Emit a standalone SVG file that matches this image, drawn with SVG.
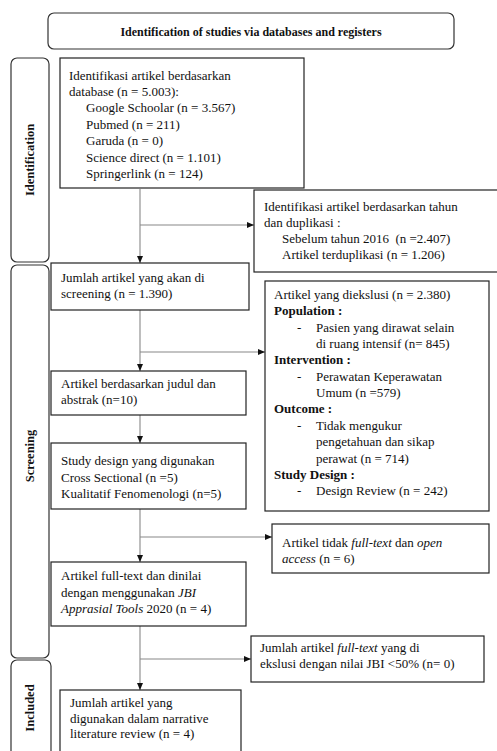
<svg xmlns="http://www.w3.org/2000/svg" width="497" height="751" viewBox="0 0 497 751">
<defs>
<style>
text{font-family:"Liberation Serif","Times New Roman",serif;font-size:13px;fill:#111}
.b{font-weight:bold}
.h{font-weight:bold;font-size:12px}
.side{font-weight:bold;font-size:12.5px}
.box{fill:#fff;stroke:#222;stroke-width:1.2}
.rbox{fill:#fff;stroke:#333;stroke-width:1.2}
.con line{stroke:#888;stroke-width:1.1}
</style>
<marker id="ah" markerWidth="7" markerHeight="6" refX="7" refY="3" orient="auto" markerUnits="userSpaceOnUse">
<path d="M0,0 L7,3 L0,6 Z" fill="#111"/>
</marker>
</defs>
<rect width="497" height="751" fill="#fff"/>

<g id="header">
<rect class="rbox" x="48" y="13" width="406" height="36" rx="6"/>
<text class="h" x="251" y="36" text-anchor="middle">Identification of studies via databases and registers</text>
</g>

<g id="side-identification">
<rect class="rbox" x="11" y="58" width="38" height="204" rx="6"/>
<text class="side" transform="translate(34,160) rotate(-90)" text-anchor="middle">Identification</text>
</g>
<g id="side-screening">
<rect class="rbox" x="11" y="265" width="38" height="393" rx="6"/>
<text class="side" transform="translate(34,456) rotate(-90)" text-anchor="middle">Screening</text>
</g>
<g id="side-included">
<rect class="rbox" x="11" y="660" width="40" height="110" rx="6"/>
<text class="side" transform="translate(34,708) rotate(-90)" text-anchor="middle">Included</text>
</g>

<g class="con" id="connectors">
<line x1="140" y1="189" x2="140" y2="263" marker-end="url(#ah)"/>
<line x1="140" y1="225" x2="254" y2="225" marker-end="url(#ah)"/>
<line x1="140" y1="310" x2="140" y2="371" marker-end="url(#ah)"/>
<line x1="140" y1="352" x2="265" y2="352" marker-end="url(#ah)"/>
<line x1="140" y1="415" x2="140" y2="443" marker-end="url(#ah)"/>
<line x1="140" y1="509" x2="140" y2="562" marker-end="url(#ah)"/>
<line x1="140" y1="537" x2="272" y2="537" marker-end="url(#ah)"/>
<line x1="140" y1="626" x2="140" y2="690" marker-end="url(#ah)"/>
<line x1="140" y1="659" x2="251" y2="659" marker-end="url(#ah)"/>
</g>

<g id="n-database">
<rect class="box" x="60" y="58" width="244" height="130"/>
<text x="69" y="80">Identifikasi artikel berdasarkan</text>
<text x="69" y="96">database (n = 5.003):</text>
<text x="86" y="112">Google Schoolar (n = 3.567)</text>
<text x="86" y="129">Pubmed (n = 211)</text>
<text x="86" y="145">Garuda (n = 0)</text>
<text x="86" y="162">Science direct (n = 1.101)</text>
<text x="86" y="178">Springerlink (n = 124)</text>
</g>

<g id="n-duplikasi">
<rect class="box" x="254" y="190" width="250" height="82"/>
<text x="264" y="211">Identifikasi artikel berdasarkan tahun</text>
<text x="264" y="227">dan duplikasi :</text>
<text x="282" y="243">Sebelum tahun 2016 &#160;(n =2.407)</text>
<text x="282" y="259">Artikel terduplikasi (n = 1.206)</text>
</g>

<g id="n-screening">
<rect class="box" x="51" y="263" width="198" height="47"/>
<text x="61" y="282">Jumlah artikel yang akan di</text>
<text x="61" y="298">screening (n = 1.390)</text>
</g>

<g id="n-eksklusi">
<rect class="box" x="265" y="281" width="224" height="230"/>
<text x="274" y="299">Artikel yang diekslusi (n = 2.380)</text>
<text class="b" x="274" y="315">Population :</text>
<text x="297" y="332">-</text>
<text x="316" y="332">Pasien yang dirawat selain</text>
<text x="316" y="348">di ruang intensif (n= 845)</text>
<text class="b" x="274" y="364">Intervention :</text>
<text x="297" y="381">-</text>
<text x="316" y="381">Perawatan Keperawatan</text>
<text x="316" y="397">Umum (n =579)</text>
<text class="b" x="274" y="413">Outcome :</text>
<text x="297" y="430">-</text>
<text x="316" y="430">Tidak mengukur</text>
<text x="316" y="446">pengetahuan dan sikap</text>
<text x="316" y="463">perawat (n = 714)</text>
<text class="b" x="274" y="479">Study Design :</text>
<text x="297" y="495">-</text>
<text x="316" y="495">Design Review (n = 242)</text>
</g>

<g id="n-judul">
<rect class="box" x="51" y="371" width="195" height="44"/>
<text x="61" y="388">Artikel berdasarkan judul dan</text>
<text x="61" y="404">abstrak (n=10)</text>
</g>

<g id="n-design">
<rect class="box" x="51" y="443" width="195" height="66"/>
<text x="61" y="465">Study design yang digunakan</text>
<text x="61" y="482">Cross Sectional (n =5)</text>
<text x="61" y="498">Kualitatif Fenomenologi (n=5)</text>
</g>

<g id="n-fulltext-excl">
<rect class="box" x="272" y="524" width="217" height="49"/>
<text x="282" y="547">Artikel tidak <tspan font-style="italic">full-text</tspan> dan <tspan font-style="italic">open</tspan></text>
<text x="282" y="563"><tspan font-style="italic">access</tspan> (n = 6)</text>
</g>

<g id="n-jbi">
<rect class="box" x="51" y="562" width="195" height="64"/>
<text x="61" y="580">Artikel full-text dan dinilai</text>
<text x="61" y="597">dengan menggunakan <tspan font-style="italic">JBI</tspan></text>
<text x="61" y="613"><tspan font-style="italic">Apprasial Tools</tspan> 2020 (n = 4)</text>
</g>

<g id="n-jbi-excl">
<rect class="box" x="251" y="636" width="233" height="46"/>
<text x="260" y="652">Jumlah artikel <tspan font-style="italic">full-text</tspan> yang di</text>
<text x="260" y="668">ekslusi dengan nilai JBI &lt;50% (n= 0)</text>
</g>

<g id="n-included">
<rect class="box" x="60" y="690" width="181" height="80"/>
<text x="70" y="707">Jumlah artikel yang</text>
<text x="70" y="723">digunakan dalam narrative</text>
<text x="70" y="738">literature review (n = 4)</text>
</g>
</svg>
